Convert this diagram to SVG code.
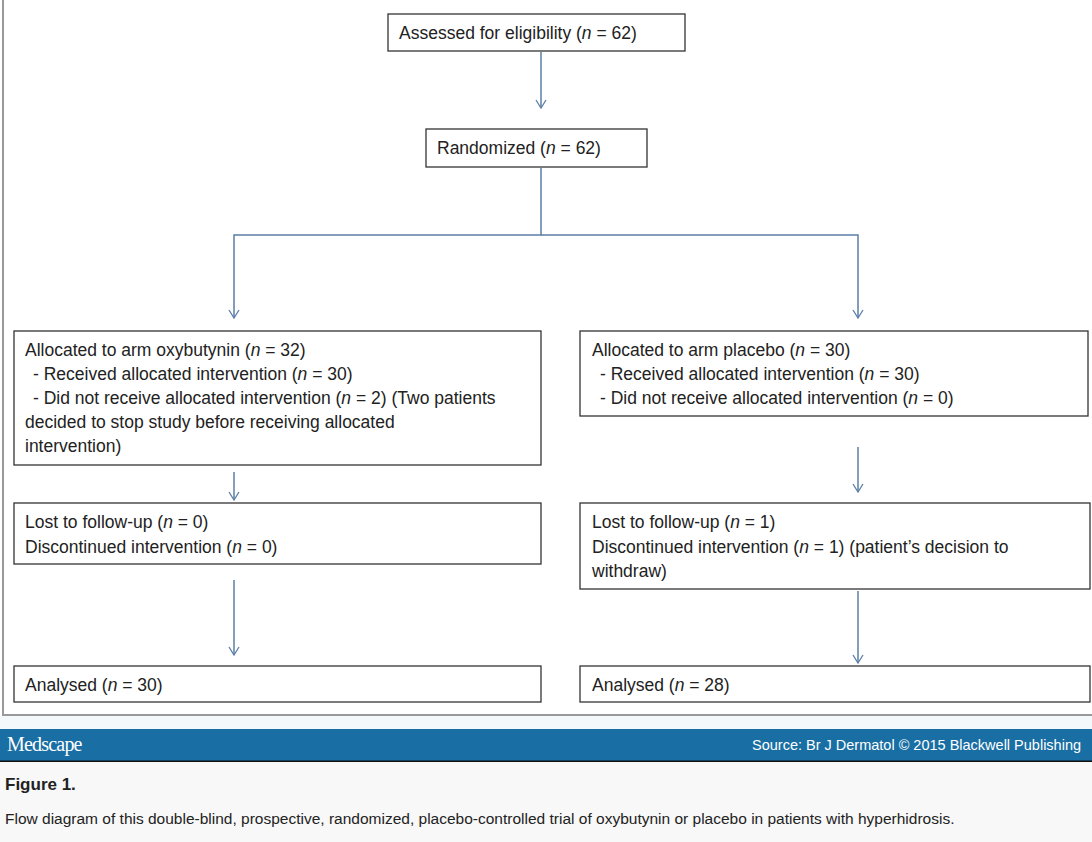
<svg xmlns="http://www.w3.org/2000/svg" width="1092" height="842" viewBox="0 0 1092 842">
<style>
.b{fill:#fff;stroke:#333;stroke-width:1.3}
.t{font-family:"Liberation Sans",Arial,sans-serif;font-size:17.5px;fill:#222}
.c{fill:none;stroke:#5b7fa6;stroke-width:1.5}
</style>
<defs><marker id="a" markerWidth="12" markerHeight="12" refX="11" refY="6" orient="auto" markerUnits="userSpaceOnUse" viewBox="0 0 12 12"><path d="M3,1 L11,6 L3,11" fill="none" stroke="#5b7fa6" stroke-width="1.3"/></marker></defs>
<rect x="0" y="0" width="1092" height="842" fill="#fff"/>
<rect x="3" y="-2" width="1095" height="717" fill="#fff" stroke="#999" stroke-width="2"/>
<rect x="0" y="716" width="1092" height="13" fill="#f3f8fb"/>
<g id="connectors">
<path class="c" d="M541,52 V108" marker-end="url(#a)"/>
<path class="c" d="M541,168 V235 H234 V318" marker-end="url(#a)"/>
<path class="c" d="M541,235 H858 V318" marker-end="url(#a)"/>
<path class="c" d="M234,472 V500" marker-end="url(#a)"/>
<path class="c" d="M858,447 V492" marker-end="url(#a)"/>
<path class="c" d="M234,580 V655" marker-end="url(#a)"/>
<path class="c" d="M858,591 V663" marker-end="url(#a)"/>
</g>
<g id="assessed"><rect class="b" x="388" y="14" width="297" height="37"/><text class="t" x="399" y="39">Assessed for eligibility (<tspan font-style="italic">n</tspan> = 62)</text></g>
<g id="randomized"><rect class="b" x="426" y="129" width="221" height="38"/><text class="t" x="437" y="154">Randomized (<tspan font-style="italic">n</tspan> = 62)</text></g>
<g id="alloc-oxy"><rect class="b" x="14" y="331" width="527" height="134"/>
<text class="t" x="25" y="356">Allocated to arm oxybutynin (<tspan font-style="italic">n</tspan> = 32)</text>
<text class="t" x="33" y="380">- Received allocated intervention (<tspan font-style="italic">n</tspan> = 30)</text>
<text class="t" x="33" y="404">- Did not receive allocated intervention (<tspan font-style="italic">n</tspan> = 2) (Two patients</text>
<text class="t" x="25" y="428">decided to stop study before receiving allocated</text>
<text class="t" x="25" y="452">intervention)</text></g>
<g id="alloc-pla"><rect class="b" x="580" y="331" width="508" height="85"/>
<text class="t" x="592" y="356">Allocated to arm placebo (<tspan font-style="italic">n</tspan> = 30)</text>
<text class="t" x="600" y="380">- Received allocated intervention (<tspan font-style="italic">n</tspan> = 30)</text>
<text class="t" x="600" y="404">- Did not receive allocated intervention (<tspan font-style="italic">n</tspan> = 0)</text></g>
<g id="lost-oxy"><rect class="b" x="14" y="503" width="527" height="61"/>
<text class="t" x="25" y="528">Lost to follow-up (<tspan font-style="italic">n</tspan> = 0)</text>
<text class="t" x="25" y="553">Discontinued intervention (<tspan font-style="italic">n</tspan> = 0)</text></g>
<g id="lost-pla"><rect class="b" x="580" y="503" width="510" height="86"/>
<text class="t" x="592" y="528">Lost to follow-up (<tspan font-style="italic">n</tspan> = 1)</text>
<text class="t" x="592" y="553">Discontinued intervention (<tspan font-style="italic">n</tspan> = 1) (patient’s decision to</text>
<text class="t" x="592" y="577">withdraw)</text></g>
<g id="an-oxy"><rect class="b" x="14" y="666" width="527" height="36"/><text class="t" x="25" y="691">Analysed (<tspan font-style="italic">n</tspan> = 30)</text></g>
<g id="an-pla"><rect class="b" x="580" y="666" width="510" height="36"/><text class="t" x="592" y="691">Analysed (<tspan font-style="italic">n</tspan> = 28)</text></g>
<rect x="0" y="729" width="1092" height="32" fill="#196ea3"/>
<line x1="0" y1="761.5" x2="1092" y2="761.5" stroke="#111" stroke-width="2"/>
<rect x="0" y="762" width="1092" height="80" fill="#f8f8f8"/>
<text x="7" y="751" font-family="'Liberation Serif',serif" font-size="20" fill="#fff" letter-spacing="-0.8">Medscape</text>
<text x="752" y="750" font-family="'Liberation Sans',Arial,sans-serif" font-size="14.5" fill="#fff">Source: Br J Dermatol © 2015 Blackwell Publishing</text>
<text x="5" y="790" font-family="'Liberation Sans',Arial,sans-serif" font-size="17" font-weight="bold" fill="#222">Figure 1.</text>
<text x="5" y="824" font-family="'Liberation Sans',Arial,sans-serif" font-size="15.5" fill="#222">Flow diagram of this double-blind, prospective, randomized, placebo-controlled trial of oxybutynin or placebo in patients with hyperhidrosis.</text>
</svg>
